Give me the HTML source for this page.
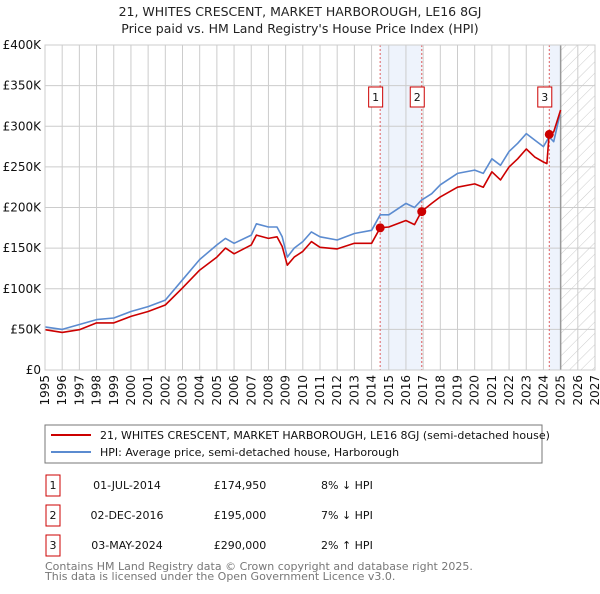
<!DOCTYPE html>
<html><head><meta charset="utf-8"><style>
body{margin:0;background:#fff;width:600px;height:590px;overflow:hidden;font-family:"DejaVu Sans","Liberation Sans",sans-serif;}
svg text{font-family:"DejaVu Sans","Liberation Sans",sans-serif;}
</style></head><body>
<svg id="chart" width="600" height="590" xmlns="http://www.w3.org/2000/svg">
<defs><pattern id="hatch" width="8" height="8" patternUnits="userSpaceOnUse" patternTransform="rotate(45)"><line x1="0" y1="0" x2="0" y2="8" stroke="#ccc" stroke-width="1"/></pattern></defs>
<text x="300" y="16" text-anchor="middle" font-size="12.5" fill="#222">21, WHITES CRESCENT, MARKET HARBOROUGH, LE16 8GJ</text>
<text x="300" y="33" text-anchor="middle" font-size="12.5" fill="#222">Price paid vs. HM Land Registry's House Price Index (HPI)</text>
<g id="grid"></g><g id="marks"></g><g id="axes"></g>
<rect x="45" y="425" width="497" height="38" fill="#fff" stroke="#777"/>
<line x1="51" y1="435" x2="91" y2="435" stroke="#cc0000" stroke-width="2"/>
<text x="100" y="439" font-size="11" fill="#111">21, WHITES CRESCENT, MARKET HARBOROUGH, LE16 8GJ (semi-detached house)</text>
<line x1="51" y1="452" x2="91" y2="452" stroke="#5b8bd0" stroke-width="2"/>
<text x="100" y="456" font-size="11" fill="#111">HPI: Average price, semi-detached house, Harborough</text>
<g font-size="11" fill="#111">
<rect x="46" y="475" width="14" height="21" fill="#fff" stroke="#cc0000"/><text x="53" y="489" text-anchor="middle">1</text>
<text x="127" y="489" text-anchor="middle">01-JUL-2014</text>
<text x="240" y="489" text-anchor="middle">£174,950</text>
<text x="321" y="489">8% ↓ HPI</text>
<rect x="46" y="505" width="14" height="21" fill="#fff" stroke="#cc0000"/><text x="53" y="519" text-anchor="middle">2</text>
<text x="127" y="519" text-anchor="middle">02-DEC-2016</text>
<text x="240" y="519" text-anchor="middle">£195,000</text>
<text x="321" y="519">7% ↓ HPI</text>
<rect x="46" y="535" width="14" height="21" fill="#fff" stroke="#cc0000"/><text x="53" y="549" text-anchor="middle">3</text>
<text x="127" y="549" text-anchor="middle">03-MAY-2024</text>
<text x="240" y="549" text-anchor="middle">£290,000</text>
<text x="321" y="549">2% ↑ HPI</text>
</g>
<text x="45" y="570" font-size="11" fill="#777">Contains HM Land Registry data © Crown copyright and database right 2025.</text>
<text x="45" y="580" font-size="11" fill="#777">This data is licensed under the Open Government Licence v3.0.</text>
</svg>
<script>
const hpiYears=[1995,1996,1997,1998,1999,2000,2001,2002,2003,2004,2005,2005.5,2006,2007,2007.3,2008,2008.5,2008.8,2009.1,2009.5,2010,2010.5,2011,2012,2013,2014,2014.5,2015,2016,2016.5,2016.9,2017.5,2018,2019,2020,2020.5,2021,2021.5,2022,2022.5,2023,2023.5,2024,2024.33,2024.6,2024.95];
const hpiValues=[53,50,56,62,64,72,78,86,111,136,154,162,156,166,180,176,176,164,139,150,158,170,164,160,168,172,191,191,205,200,209,217,228,242,246,242,260,252,269,279,291,283,275,287,281,314];
const redYears=[1995,1996,1997,1998,1999,2000,2001,2002,2003,2004,2005,2005.5,2006,2007,2007.3,2008,2008.5,2008.8,2009.1,2009.5,2010,2010.5,2011,2012,2013,2014,2014.5,2015,2016,2016.5,2016.9,2017.5,2018,2019,2020,2020.5,2021,2021.5,2022,2022.5,2023,2023.5,2024,2024.2,2024.33,2024.6,2025];
const redValues=[49.6,46.3,49.6,58,58,66,72,80,101,123,139,150,143,154,166,162,164,152,129,139,146,158,151,149,156,156,175,176,184,179,195,205,213,225,229,225,244,234,250,260,272,262,256,254,290,293,320];
const saleYears=[2014.5,2016.92,2024.34];
const saleValues=[174.95,195,290];
const saleLabels=["1","2","3"];
const yTicks=[0,50,100,150,200,250,300,350,400];
const yTickLabels=["£0","£50K","£100K","£150K","£200K","£250K","£300K","£350K","£400K"];
const xTicks=[1995,1996,1997,1998,1999,2000,2001,2002,2003,2004,2005,2006,2007,2008,2009,2010,2011,2012,2013,2014,2015,2016,2017,2018,2019,2020,2021,2022,2023,2024,2025,2026,2027];
const ns="http://www.w3.org/2000/svg";
const X0=45,X1=595,Y0=370,Y1=45;
const xs=y=>X0+(y-1995)/(2027-1995)*(X1-X0);
const ys=v=>Y0-v/400*(Y0-Y1);
function mk(tag,attrs,parent){const e=document.createElementNS(ns,tag);for(const k in attrs)e.setAttribute(k,attrs[k]);parent.appendChild(e);return e;}
const grid=document.getElementById('grid'),marks=document.getElementById('marks'),axes=document.getElementById('axes');
let b=mk('rect',{x:xs(saleYears[0]),y:Y1,width:xs(saleYears[1])-xs(saleYears[0]),height:Y0-Y1,fill:'#eef3fc'},grid);


b=mk('rect',{x:xs(saleYears[2]),y:Y1,width:xs(2025)-xs(saleYears[2]),height:Y0-Y1,fill:'#eef3fc'},grid);


b=mk('rect',{x:xs(2025),y:Y1,width:X1-xs(2025),height:Y0-Y1,fill:'url(#hatch)'},grid);


yTicks.forEach((t,i)=>{
 const l=mk('line',{x1:X0,x2:X1,y1:ys(t),y2:ys(t),stroke:'#ccc','stroke-width':1},grid);
 
 
 const tx=mk('text',{x:X0-4,y:ys(t)+4,'text-anchor':'end','font-size':12,fill:'#111'},axes);
 tx.textContent=yTickLabels[i];
 
 
});
xTicks.forEach(t=>{
 const l=mk('line',{x1:xs(t),x2:xs(t),y1:Y1,y2:Y0,stroke:'#ccc','stroke-width':1},grid);
 
 
 const tx=mk('text',{x:0,y:0,'text-anchor':'end','font-size':12,fill:'#111',transform:`translate(${xs(t)+4},${Y0+5}) rotate(-90)`},axes);
 tx.textContent=t;
 
 
});
let nl=mk('line',{x1:xs(2025),x2:xs(2025),y1:Y1,y2:Y0,stroke:'#999','stroke-width':1.5},grid);


saleYears.forEach((s,i)=>{
 const l=mk('line',{x1:xs(s),x2:xs(s),y1:Y1,y2:Y0,stroke:'#e06060','stroke-width':1,'stroke-dasharray':'2,2'},grid);
 
 
});
function path(xa,va,color,name){
 const d=xa.map((x,i)=>(i?'L':'M')+xs(x).toFixed(1)+','+ys(va[i]).toFixed(1)).join('');
 const p=mk('path',{d:d,fill:'none',stroke:color,'stroke-width':1.6,'stroke-linejoin':'round'},marks);
 
 
}
path(hpiYears,hpiValues,'#5b8bd0','hpi-line');
path(redYears,redValues,'#cc0000','price-paid-line');
saleYears.forEach((s,i)=>{
 const c=mk('circle',{cx:xs(s),cy:ys(saleValues[i]),r:4.5,fill:'#cc0000'},marks);
 
 
 const bx=xs(s)-4.5;
 const r=mk('rect',{x:bx-7,y:87,width:14,height:20,fill:'#fff',stroke:'#cc0000'},marks);
 
 
 const t=mk('text',{x:bx,y:101,'text-anchor':'middle','font-size':11,fill:'#111'},marks);
 t.textContent=saleLabels[i];
 
 
});
const fr=mk('rect',{x:X0,y:Y1,width:X1-X0,height:Y0-Y1,fill:'none',stroke:'#ccc'},axes);


</script>
</body></html>
